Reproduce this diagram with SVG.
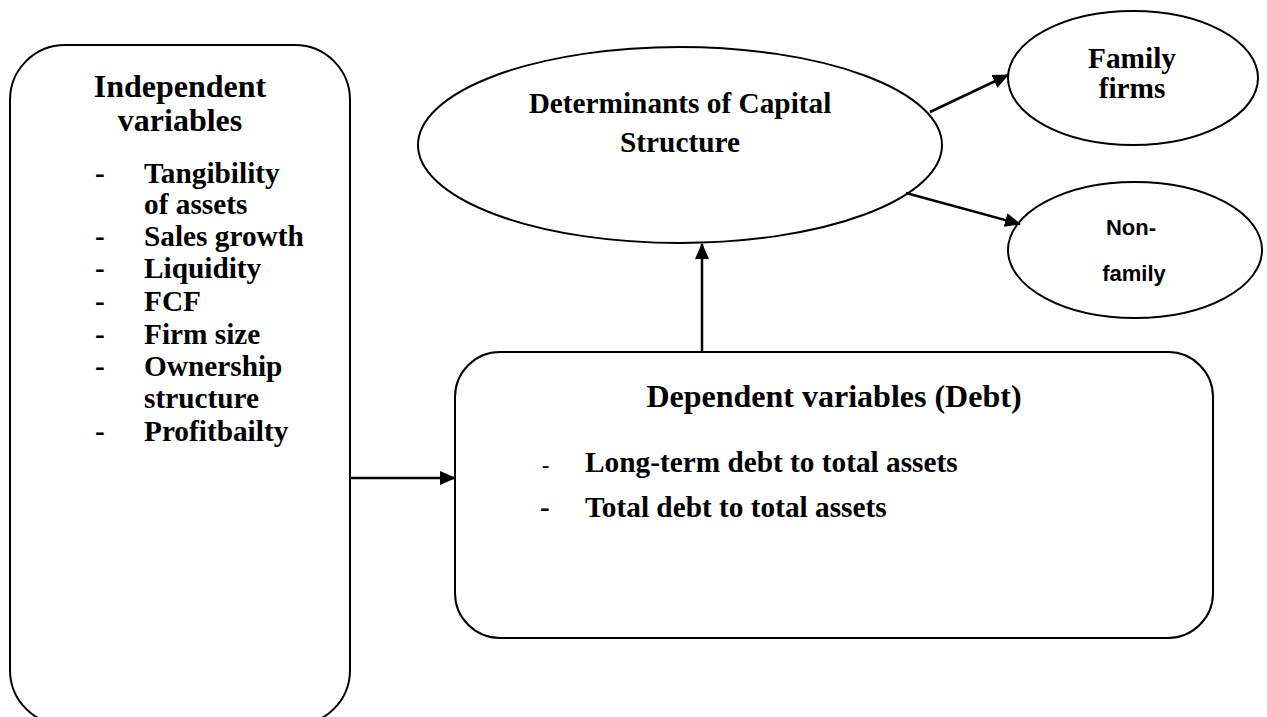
<svg xmlns="http://www.w3.org/2000/svg" width="1267" height="717" viewBox="0 0 1267 717">
<style>
.shape{fill:#fff;stroke:#000;stroke-width:2}
.conn{stroke:#000;stroke-width:2.5;fill:none}
.t{font-family:"Liberation Serif","Times New Roman",serif;font-weight:bold;fill:#000}
.h{font-size:32px}
.b{font-size:29.3px}
.s{font-family:"Liberation Sans",Arial,sans-serif;font-weight:bold;font-size:22px;fill:#000}
</style>
<defs>
<marker id="arr" markerUnits="userSpaceOnUse" markerWidth="16" markerHeight="14" refX="15" refY="7" orient="auto">
<path d="M0,0 L16,7 L0,14 Z" fill="#000"/>
</marker>
</defs>
<rect width="1267" height="717" fill="#fff"/>
<g id="independent">
<rect class="shape" x="10" y="45" width="340" height="680" rx="55" ry="55"/>
<text class="t h" x="180" y="97" text-anchor="middle">Independent</text>
<text class="t h" x="180" y="131" text-anchor="middle">variables</text>
<g class="t b">
<text x="95" y="183">-</text><text x="144" y="183">Tangibility</text>
<text x="144" y="214">of assets</text>
<text x="95" y="246">-</text><text x="144" y="246">Sales growth</text>
<text x="95" y="278">-</text><text x="144" y="278">Liquidity</text>
<text x="95" y="311">-</text><text x="144" y="311">FCF</text>
<text x="95" y="344">-</text><text x="144" y="344">Firm size</text>
<text x="95" y="376">-</text><text x="144" y="376">Ownership</text>
<text x="144" y="408">structure</text>
<text x="95" y="441">-</text><text x="144" y="441">Profitbailty</text>
</g>
</g>
<g id="determinants">
<ellipse class="shape" cx="680" cy="145" rx="262" ry="98"/>
<text class="t b" x="680" y="113" text-anchor="middle">Determinants of Capital</text>
<text class="t b" x="680" y="152" text-anchor="middle">Structure</text>
</g>
<g id="family">
<ellipse class="shape" cx="1133" cy="78" rx="125" ry="67"/>
<text class="t b" x="1132" y="68" text-anchor="middle">Family</text>
<text class="t b" x="1132" y="98" text-anchor="middle">firms</text>
</g>
<g id="nonfamily">
<ellipse class="shape" cx="1135" cy="250" rx="127" ry="68"/>
<text class="s" x="1131" y="235" text-anchor="middle">Non-</text>
<text class="s" x="1134" y="281" text-anchor="middle">family</text>
</g>
<g id="dependent">
<rect class="shape" x="455" y="352" width="758" height="286" rx="45" ry="45"/>
<text class="t h" x="834" y="407" text-anchor="middle">Dependent variables (Debt)</text>
<g class="t b">
<text x="542" y="472" font-size="22px">-</text><text x="585" y="472">Long-term debt to total assets</text>
<text x="540" y="517">-</text><text x="585" y="517">Total debt to total assets</text>
</g>
</g>
<g id="connectors">
<line class="conn" x1="350" y1="478" x2="455" y2="478" marker-end="url(#arr)"/>
<line class="conn" x1="702" y1="352" x2="702" y2="244" marker-end="url(#arr)"/>
<line class="conn" x1="930" y1="112" x2="1008" y2="75" marker-end="url(#arr)"/>
<line class="conn" x1="906" y1="193" x2="1020" y2="224" marker-end="url(#arr)"/>
</g>
</svg>
